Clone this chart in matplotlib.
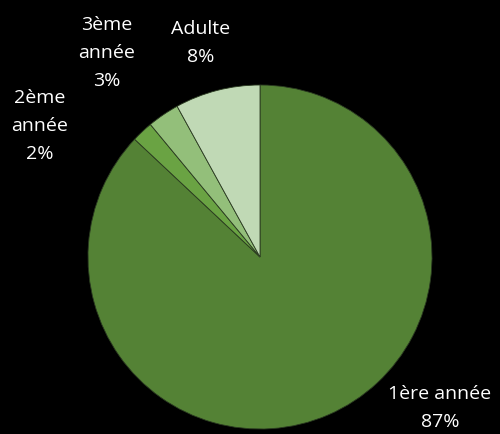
import matplotlib
matplotlib.use("Agg")
import matplotlib.pyplot as plt

# share of pupils per year
categories = ["1ère année", "2ème année", "3ème année", "Adulte"]
display_names = ["1ère année", "2ème\nannée", "3ème\nannée", "Adulte"]
values = [87, 2, 3, 8]
colors = ["#548235", "#6AA343", "#93BF7A", "#C0D9B5"]

# label centres in pixels (x, y from top)
label_pos = [(440, 408), (40, 126), (107, 53), (201, 43)]

W, H = 500, 434
fig = plt.figure(figsize=(W / 100, H / 100), dpi=100, facecolor="black")

cx, cy, r = 260, 257, 172
ax = fig.add_axes([(cx - r) / W, (H - cy - r) / H, 2 * r / W, 2 * r / H])
ax.set_facecolor("black")
ax.pie(values, colors=colors, startangle=90, counterclock=False,
       wedgeprops=dict(edgecolor="#2a3a20", linewidth=0.6))
ax.set_xlim(-1, 1)
ax.set_ylim(-1, 1)
ax.set_aspect("equal")
ax.axis("off")

total = sum(values)
for name, v, (px, py) in zip(display_names, values, label_pos):
    pct = round(100 * v / total)
    fig.text(px / W, 1 - py / H, f"{name}\n{pct}%", color="white",
             ha="center", va="center", fontsize=14, family="Open Sans",
             linespacing=1.7)

fig.savefig("out.png", dpi=100, facecolor="black")
